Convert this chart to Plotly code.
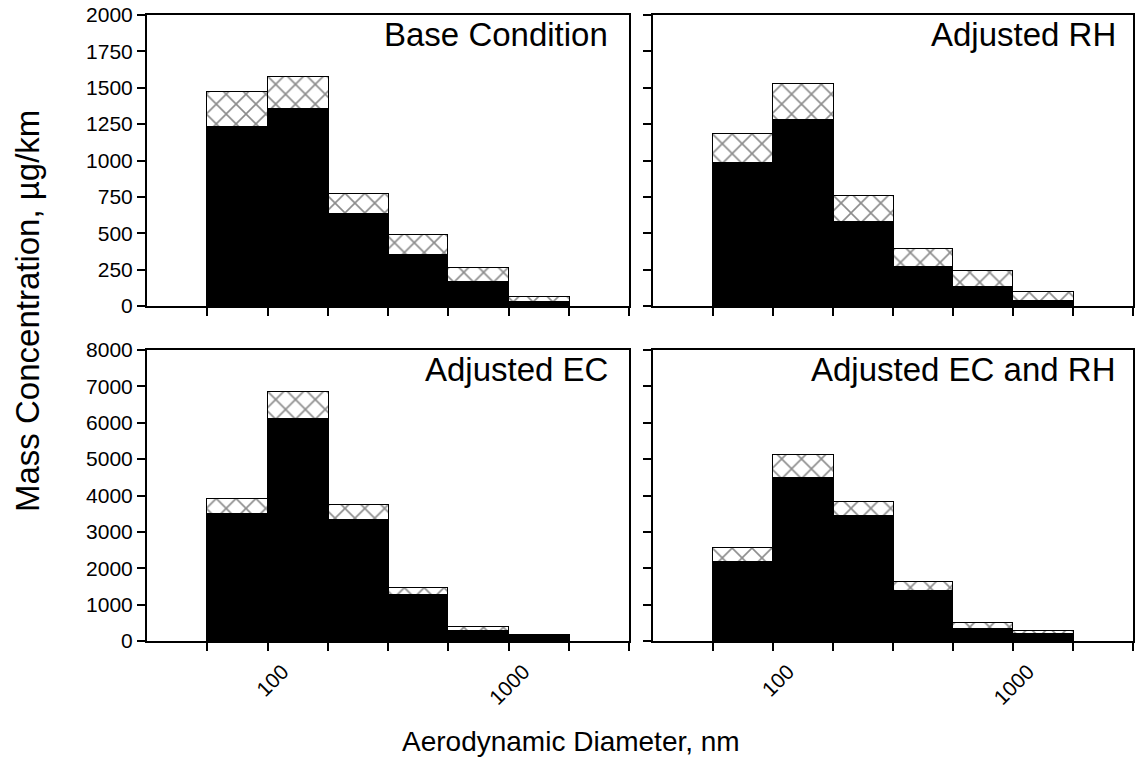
import numpy as np
import plotly.graph_objects as go

# Impactor stage cut points (nm)
bin_edges_nm = [56, 100, 180, 320, 560, 1000, 1800]

# Tick positions on the diameter axis (nm) and their labels
x_tick_nm = [31.6, 56.2, 100, 177.8, 316.2, 562.3, 1000, 1778, 3162]
x_tick_text = ["", "", "100", "", "", "", "1000", "", ""]

panel_titles = ["Base Condition", "Adjusted RH", "Adjusted EC", "Adjusted EC and RH"]

# Solid (lower) and hatched (upper) segments of each stacked bar, µg/km
base_lower = [1230, 1355, 634, 352, 168, 30]
base_upper = [240, 220, 134, 133, 92, 32]
rh_lower = [984, 1278, 577, 269, 129, 37]
rh_upper = [195, 248, 182, 124, 112, 57]
ec_lower = [3490, 6100, 3325, 1255, 285, 135]
ec_upper = [420, 735, 405, 200, 90, 35]
ecrh_lower = [2170, 4480, 3435, 1385, 340, 200]
ecrh_upper = [385, 630, 395, 245, 165, 85]

y_top_ticks = [0, 250, 500, 750, 1000, 1250, 1500, 1750, 2000]
y_bot_ticks = [0, 1000, 2000, 3000, 4000, 5000, 6000, 7000, 8000]

W, H = 1137, 759
FONT = "Liberation Sans, Arial, sans-serif"

log_edges = np.log10(bin_edges_nm)
centers = (log_edges[:-1] + log_edges[1:]) / 2
widths = np.diff(log_edges)
log_ticks = np.log10(x_tick_nm)

# plot-area boxes in pixels: (left, right, top, bottom)
boxes = [
    (147, 629, 15, 306),
    (653, 1133, 15, 306),
    (147, 629, 350, 641),
    (653, 1133, 350, 641),
]

panels = [
    (base_lower, base_upper),
    (rh_lower, rh_upper),
    (ec_lower, ec_upper),
    (ecrh_lower, ecrh_upper),
]

fig = go.Figure()
line = dict(color="black", width=1.5)

for i, (lower, upper) in enumerate(panels):
    xa = "x" if i == 0 else f"x{i+1}"
    ya = "y" if i == 0 else f"y{i+1}"
    fig.add_trace(go.Bar(
        x=centers, y=lower, width=widths, xaxis=xa, yaxis=ya,
        marker=dict(color="black", line=line), showlegend=False,
    ))
    fig.add_trace(go.Bar(
        x=centers, y=upper, width=widths, xaxis=xa, yaxis=ya,
        marker=dict(color="white", line=line,
                    pattern=dict(shape="x", fgcolor="#1a1a1a", bgcolor="white",
                                 size=14, solidity=0.22)),
        showlegend=False,
    ))

layout = dict(
    width=W, height=H, barmode="stack", bargap=0,
    margin=dict(l=0, r=0, t=0, b=0),
    paper_bgcolor="white", plot_bgcolor="white",
    font=dict(family=FONT, color="black", size=21),
)

for i, (l, r, t, b) in enumerate(boxes):
    sx = "" if i == 0 else str(i + 1)
    top_row = i < 2
    left_col = i % 2 == 0
    layout[f"xaxis{sx}"] = dict(
        domain=[l / W, r / W], anchor=f"y{sx}", range=[1.5, 3.5],
        tickmode="array", tickvals=log_ticks, ticktext=x_tick_text,
        showticklabels=not top_row, tickangle=-45, ticklabelshift=15,
        ticks="outside", ticklen=8, tickwidth=1.5, tickcolor="black",
        showline=True, linecolor="black", linewidth=2, mirror=True,
        showgrid=False, zeroline=False, automargin=False,
        tickfont=dict(size=21),
    )
    layout[f"yaxis{sx}"] = dict(
        domain=[1 - b / H, 1 - t / H], anchor=f"x{sx}",
        range=[0, 2000] if top_row else [0, 8000],
        tickmode="array", tickvals=y_top_ticks if top_row else y_bot_ticks,
        showticklabels=left_col,
        ticks="outside", ticklen=8, tickwidth=1.5, tickcolor="black",
        showline=True, linecolor="black", linewidth=2, mirror=True,
        showgrid=False, zeroline=False, automargin=False,
        tickfont=dict(size=21),
    )

annotations = []
for i, (l, r, t, b) in enumerate(boxes):
    xr = 610 if i % 2 == 0 else 1118
    annotations.append(dict(
        text=panel_titles[i], xref="paper", yref="paper",
        x=xr / W, y=1 - (t + 19) / H, xanchor="right", yanchor="middle",
        showarrow=False, font=dict(size=33, family=FONT),
    ))
annotations.append(dict(
    text="Aerodynamic Diameter, nm", xref="paper", yref="paper",
    x=571 / W, y=1 - 741 / H, xanchor="center", yanchor="middle",
    showarrow=False, font=dict(size=28, family=FONT),
))
annotations.append(dict(
    text="Mass Concentration, µg/km", xref="paper", yref="paper",
    x=27 / W, y=1 - 311 / H, xanchor="center", yanchor="middle",
    textangle=-90, showarrow=False, font=dict(size=33, family=FONT),
))
layout["annotations"] = annotations

fig.update_layout(**layout)
fig.write_html("out.html")
